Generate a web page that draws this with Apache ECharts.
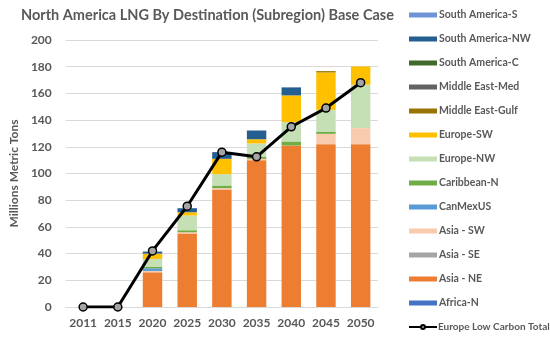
<!DOCTYPE html>
<html><head><meta charset="utf-8">
<script src="https://cdn.jsdelivr.net/npm/echarts@6/dist/echarts.min.js"></script>
<style>html,body{margin:0;padding:0;background:#fff}#c{width:550px;height:339px}</style>
</head><body><div id="c"></div>
<script>
const categories = ['2011','2015','2020','2025','2030','2035','2040','2045','2050'];
const africaN    = [0,0,0,0,0,0,0,0,0];
const asiaNE     = [0,0,26,55,88,110,121,122,122];
const asiaSE     = [0,0,0,0,0,0,0,0,0];
const asiaSW     = [0,0,1,1,1,1,0,7.7,12];
const canMexUS   = [0,0,2,0,0,0,0,0,0];
const caribbeanN = [0,0,1,1.5,2,1.5,3,1.7,0];
const europeNW   = [0,0,6,11,8.5,10,14.5,16.3,32.5];
const europeSW   = [0,0,4,2.5,11.5,3.2,20,28,13.7];
const meGulf     = [0,0,0,0,0,0,0,1,0];
const meMed      = [0,0,0,0,0,0,0,0,0];
const saC        = [0,0,0,0,0,0,0,0,0];
const saNW       = [0,0,1.5,3,5,6.5,6,0,0];
const saS        = [0,0,0,0,0,0,0,0,0];
const europeLowCarbonTotal = [0,0,42,75.5,116,112.5,135,149,168];
const yTicks = [0,20,40,60,80,100,120,140,160,180,200];

const barSeries = [
  ['Africa-N', africaN, '#4472c4'],
  ['Asia - NE', asiaNE, '#ed7d31'],
  ['Asia - SE', asiaSE, '#a5a5a5'],
  ['Asia - SW', asiaSW, '#f8cbad'],
  ['CanMexUS', canMexUS, '#5b9bd5'],
  ['Caribbean-N', caribbeanN, '#70ad47'],
  ['Europe-NW', europeNW, '#c5e0b4'],
  ['Europe-SW', europeSW, '#ffc000'],
  ['Middle East-Gulf', meGulf, '#997300'],
  ['Middle East-Med', meMed, '#636363'],
  ['South America-C', saC, '#43682b'],
  ['South America-NW', saNW, '#255e91'],
  ['South America-S', saS, '#6f94d6']
];
const lineName = 'Europe Low Carbon Total';
const txt = '#595959';
const series = barSeries.map(([n,d,c]) => ({
  name:n, type:'bar', stack:'t', data:d, barWidth:'56%',
  itemStyle:{color:c}, emphasis:{disabled:true}
}));
series.push({
  name:lineName, type:'line', data:europeLowCarbonTotal, z:10,
  symbol:'circle', symbolSize:8,
  lineStyle:{color:'#000', width:3},
  itemStyle:{color:'#a5a5a5', borderColor:'#000', borderWidth:1.5}
});
const legendData = barSeries.slice().reverse().map(([n]) => ({name:n, icon:'rect'}));
legendData.push({name:lineName, textStyle:{fontSize:10, padding:[0,0,0,-4]}});

const chart = echarts.init(document.getElementById('c'), null, {renderer:'canvas'});
chart.setOption({
  animation:false,
  title:{text:'North America LNG By Destination (Subregion) Base Case', left:16, top:3,
    textStyle:{fontFamily:'Lato', fontWeight:'bold', fontSize:14.5, color:txt}},
  grid:{left:61, right:172, top:40, bottom:32},
  legend:{orient:'vertical', left:408, top:8, padding:0, itemWidth:28, itemHeight:5, itemGap:10,
    data:legendData, selectedMode:false,
    textStyle:{fontFamily:'Lato', fontWeight:'bold', fontSize:10.5, color:txt, lineHeight:14, padding:[0,0,0,-3]}},
  xAxis:{type:'category', data:categories,
    axisLine:{lineStyle:{color:'#d9d9d9'}}, axisTick:{show:false},
    axisLabel:{interval:0, fontFamily:'Lato', fontWeight:'bold', fontSize:12, color:txt, margin:10}},
  yAxis:{type:'value', min:yTicks[0], max:yTicks[yTicks.length-1], interval:yTicks[1]-yTicks[0],
    name:'Millions Metric Tons', nameLocation:'middle', nameGap:36, nameRotate:90,
    nameTextStyle:{fontFamily:'Lato', fontWeight:'bold', fontSize:12, color:txt},
    axisLine:{show:false}, axisTick:{show:false},
    splitLine:{lineStyle:{color:'#d9d9d9'}},
    axisLabel:{fontFamily:'Lato', fontWeight:'bold', fontSize:12, color:txt, margin:14}},
  series:series
});
</script></body></html>
